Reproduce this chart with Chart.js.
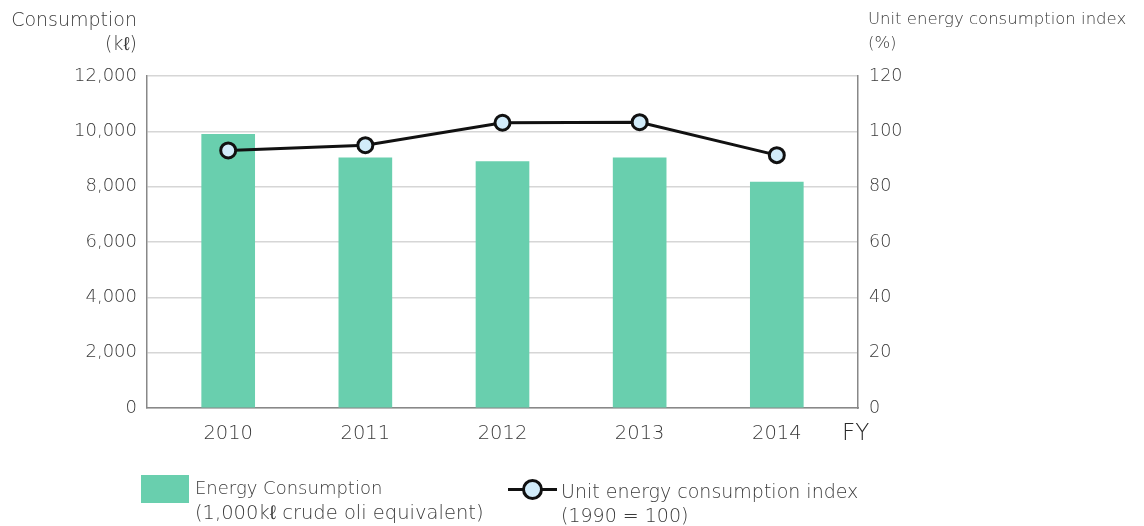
<!DOCTYPE html>
<html>
<head>
<meta charset="utf-8">
<script src="https://cdn.jsdelivr.net/npm/chart.js@4.4.1/dist/chart.umd.min.js"></script>
<style>
  html, body { margin: 0; padding: 0; background: #fff; }
  #wrap { position: relative; width: 1144px; height: 526px; font-family: "DejaVu Sans", sans-serif; font-weight: 200; color: #3a3a3a; }
  canvas { position: absolute; left: 0; top: 0; }
  .t { position: absolute; white-space: nowrap; line-height: 1; }
</style>
</head>
<body>
<div id="wrap">
  <canvas id="c" width="1144" height="526"></canvas>
  <div class="t" style="right:1007px; top:10px; font-size:19px; text-align:right;">Consumption</div>
  <div class="t" style="right:1007px; top:34px; font-size:19px; text-align:right;">(kℓ)</div>
  <div class="t" style="left:868px; top:11px; font-size:16.5px;">Unit energy consumption index</div>
  <div class="t" style="left:868px; top:35px; font-size:16.5px;">(%)</div>
  <div class="t" style="left:842px; top:421px; font-size:23px; color:#2a2a2a;">FY</div>
  <div style="position:absolute; left:141px; top:475px; width:48px; height:28px; background:#69cfae;"></div>
  <div class="t" style="left:195px; top:479px; font-size:18px;">Energy Consumption</div>
  <div class="t" style="left:195px; top:503px; font-size:19.5px;">(1,000kℓ crude oli equivalent)</div>
  <div style="position:absolute; left:508px; top:488px; width:49px; height:3px; background:#111;"></div>
  <div style="position:absolute; left:522px; top:479px; width:15px; height:15px; border:3px solid #111; border-radius:50%; background:#d2ecfa;"></div>
  <div class="t" style="left:561px; top:482px; font-size:19px;">Unit energy consumption index</div>
  <div class="t" style="left:561px; top:506px; font-size:19px;">(1990 = 100)</div>
</div>
<script>
const categories = ["2010", "2011", "2012", "2013", "2014"];
const energyConsumption = [9890, 9040, 8910, 9040, 8170];
const unitIndex = [93.1, 95.0, 103.1, 103.3, 91.4];
const leftTicks = [0, 2000, 4000, 6000, 8000, 10000, 12000];
const rightTicks = [0, 20, 40, 60, 80, 100, 120];

const barData = categories.map((c, i) => ({ x: i, y: energyConsumption[i] }));
const lineData = categories.map((c, i) => ({ x: i, y: unitIndex[i] }));

const fam = '"DejaVu Sans", sans-serif';

new Chart(document.getElementById('c'), {
  type: 'bar',
  data: {
    datasets: [
      {
        type: 'line',
        label: 'Unit energy consumption index (1990 = 100)',
        data: lineData,
        yAxisID: 'y1',
        order: 0,
        borderColor: '#111',
        borderWidth: 3,
        pointRadius: 7.5,
        pointBorderWidth: 3,
        pointBorderColor: '#111',
        pointBackgroundColor: '#d2ecfa',
        tension: 0
      },
      {
        type: 'bar',
        label: 'Energy Consumption (1,000kℓ crude oli equivalent)',
        data: barData,
        yAxisID: 'y',
        order: 1,
        backgroundColor: '#69cfae',
        barThickness: 53
      }
    ]
  },
  options: {
    responsive: false,
    animation: false,
    devicePixelRatio: 1,
    layout: { padding: { top: 76, left: 0, right: 0, bottom: 0 } },
    plugins: { legend: { display: false }, tooltip: { enabled: false } },
    scales: {
      x: {
        type: 'linear',
        offset: false,
        min: -0.592,
        max: 4.592,
        afterFit: s => { s.height = 118; },
        grid: { display: false, drawTicks: false, offset: false },
        border: { display: true, color: '#888', width: 1.5 },
        ticks: {
          stepSize: 1,
          includeBounds: false,
          autoSkip: false,
          maxRotation: 0,
          padding: 14,
          color: '#3a3a3a',
          font: { family: fam, size: 19.5, weight: 200 },
          callback: v => (Number.isInteger(v) && categories[v] !== undefined) ? categories[v] : ''
        }
      },
      y: {
        position: 'left',
        min: 0,
        max: 12000,
        afterFit: s => { s.width = 147; },
        afterBuildTicks: s => { s.ticks = leftTicks.map(v => ({ value: v })); },
        grid: { color: '#d6d6d6', lineWidth: 1.5, drawTicks: false },
        border: { display: true, color: '#888', width: 1.5 },
        ticks: {
          padding: 10,
          color: '#3a3a3a',
          font: { family: fam, size: 18, weight: 200 },
          callback: v => v.toLocaleString('en-US')
        }
      },
      y1: {
        position: 'right',
        min: 0,
        max: 120,
        afterFit: s => { s.width = 286; },
        afterBuildTicks: s => { s.ticks = rightTicks.map(v => ({ value: v })); },
        grid: { display: false, drawTicks: false },
        border: { display: true, color: '#888', width: 1.5 },
        ticks: {
          padding: 11,
          color: '#3a3a3a',
          font: { family: fam, size: 17.5, weight: 200 }
        }
      }
    }
  }
});
</script>
</body>
</html>
